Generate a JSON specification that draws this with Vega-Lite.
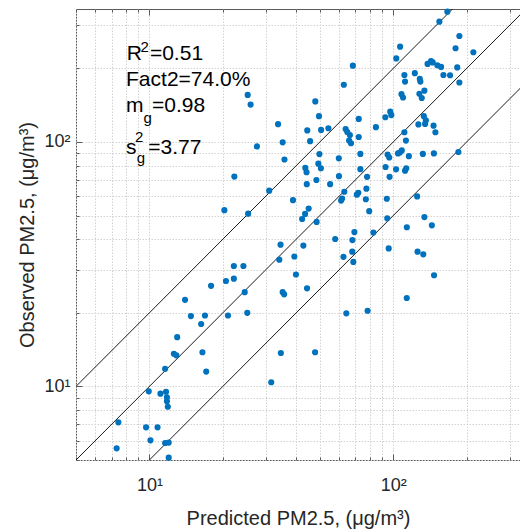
{
  "$schema": "https://vega.github.io/schema/vega-lite/v6.json",
  "width": 444,
  "height": 451,
  "autosize": {"type": "none"},
  "padding": {"left": 76, "top": 9, "right": 0, "bottom": 69},
  "background": "white",
  "config": {
    "view": {"stroke": "#5a5a5a", "strokeWidth": 1},
    "font": "Liberation Sans"
  },
  "datasets": {
    "pts": [
      {"predicted": 25.3, "observed": 155.8}, {"predicted": 26.0, "observed": 142.2}, {"predicted": 27.6, "observed": 95.9},
      {"predicted": 22.3, "observed": 72.2}, {"predicted": 20.3, "observed": 52.6}, {"predicted": 25.4, "observed": 50.9},
      {"predicted": 31.0, "observed": 63.2}, {"predicted": 33.7, "observed": 118.3}, {"predicted": 35.2, "observed": 99.7},
      {"predicted": 35.8, "observed": 84.8}, {"predicted": 38.8, "observed": 57.8}, {"predicted": 34.5, "observed": 38.0},
      {"predicted": 39.3, "observed": 34.0}, {"predicted": 34.1, "observed": 33.0}, {"predicted": 39.9, "observed": 28.7},
      {"predicted": 35.2, "observed": 24.3}, {"predicted": 35.7, "observed": 23.8}, {"predicted": 44.3, "observed": 25.2},
      {"predicted": 22.2, "observed": 31.1}, {"predicted": 24.3, "observed": 31.1}, {"predicted": 20.6, "observed": 27.0},
      {"predicted": 22.2, "observed": 27.6}, {"predicted": 17.9, "observed": 25.8}, {"predicted": 24.6, "observed": 24.3},
      {"predicted": 14.0, "observed": 22.6}, {"predicted": 14.8, "observed": 19.4}, {"predicted": 16.9, "observed": 19.5},
      {"predicted": 16.3, "observed": 18.0}, {"predicted": 21.0, "observed": 19.5}, {"predicted": 25.2, "observed": 20.0},
      {"predicted": 13.0, "observed": 15.9}, {"predicted": 16.5, "observed": 13.8}, {"predicted": 17.1, "observed": 11.5},
      {"predicted": 12.6, "observed": 13.6}, {"predicted": 12.9, "observed": 13.4}, {"predicted": 11.6, "observed": 11.8},
      {"predicted": 9.94, "observed": 9.55}, {"predicted": 11.1, "observed": 9.34}, {"predicted": 11.7, "observed": 9.51},
      {"predicted": 11.8, "observed": 9.03}, {"predicted": 11.8, "observed": 8.69}, {"predicted": 11.9, "observed": 8.26},
      {"predicted": 7.46, "observed": 7.13}, {"predicted": 9.69, "observed": 6.80}, {"predicted": 10.8, "observed": 6.80},
      {"predicted": 10.1, "observed": 6.02}, {"predicted": 11.6, "observed": 5.87}, {"predicted": 12.0, "observed": 5.89},
      {"predicted": 7.34, "observed": 5.58}, {"predicted": 12.0, "observed": 5.11}, {"predicted": 34.6, "observed": 13.7},
      {"predicted": 47.8, "observed": 13.8}, {"predicted": 31.6, "observed": 10.4}, {"predicted": 64.2, "observed": 19.9},
      {"predicted": 78.5, "observed": 20.4}, {"predicted": 113.6, "observed": 23.0}, {"predicted": 147.0, "observed": 28.5},
      {"predicted": 125.8, "observed": 35.6}, {"predicted": 132.8, "observed": 34.7}, {"predicted": 95.8, "observed": 36.7},
      {"predicted": 68.6, "observed": 32.3}, {"predicted": 62.5, "observed": 33.9}, {"predicted": 67.9, "observed": 35.6},
      {"predicted": 68.0, "observed": 39.7}, {"predicted": 69.3, "observed": 42.8}, {"predicted": 82.9, "observed": 42.6},
      {"predicted": 57.8, "observed": 40.1}, {"predicted": 42.8, "observed": 37.7}, {"predicted": 42.3, "observed": 48.4},
      {"predicted": 48.5, "observed": 47.1}, {"predicted": 43.5, "observed": 50.8}, {"predicted": 45.0, "observed": 53.4},
      {"predicted": 113.7, "observed": 44.8}, {"predicted": 144.0, "observed": 45.6}, {"predicted": 134.2, "observed": 49.3},
      {"predicted": 94.5, "observed": 48.7}, {"predicted": 79.7, "observed": 52.1}, {"predicted": 77.2, "observed": 58.3},
      {"predicted": 77.6, "observed": 64.4}, {"predicted": 70.9, "observed": 60.9}, {"predicted": 71.9, "observed": 62.0},
      {"predicted": 61.1, "observed": 57.6}, {"predicted": 61.7, "observed": 58.7}, {"predicted": 63.0, "observed": 62.6},
      {"predicted": 55.1, "observed": 67.2}, {"predicted": 44.2, "observed": 67.2}, {"predicted": 48.4, "observed": 69.9},
      {"predicted": 59.9, "observed": 72.5}, {"predicted": 78.1, "observed": 72.0}, {"predicted": 73.3, "observed": 77.4},
      {"predicted": 94.1, "observed": 58.6}, {"predicted": 125.3, "observed": 59.9}, {"predicted": 93.0, "observed": 79.0},
      {"predicted": 96.6, "observed": 72.0}, {"predicted": 102.7, "observed": 77.3}, {"predicted": 111.8, "observed": 76.3},
      {"predicted": 113.1, "observed": 78.1}, {"predicted": 94.8, "observed": 88.8}, {"predicted": 96.3, "observed": 86.4},
      {"predicted": 104.6, "observed": 89.8}, {"predicted": 108.4, "observed": 92.4}, {"predicted": 106.4, "observed": 90.6},
      {"predicted": 115.9, "observed": 87.5}, {"predicted": 132.3, "observed": 89.4}, {"predicted": 146.8, "observed": 89.8},
      {"predicted": 185.0, "observed": 91.0}, {"predicted": 111.1, "observed": 109.6}, {"predicted": 112.7, "observed": 101.3},
      {"predicted": 73.3, "observed": 89.4}, {"predicted": 59.8, "observed": 85.7}, {"predicted": 49.8, "observed": 89.2},
      {"predicted": 43.6, "observed": 78.3}, {"predicted": 44.1, "observed": 75.2}, {"predicted": 49.3, "observed": 81.5},
      {"predicted": 50.5, "observed": 78.1}, {"predicted": 45.6, "observed": 100.8}, {"predicted": 44.4, "observed": 111.5},
      {"predicted": 50.6, "observed": 112.0}, {"predicted": 54.2, "observed": 113.8}, {"predicted": 47.9, "observed": 146.5},
      {"predicted": 49.6, "observed": 127.5}, {"predicted": 63.8, "observed": 113.0}, {"predicted": 64.8, "observed": 109.9},
      {"predicted": 66.4, "observed": 106.8}, {"predicted": 65.9, "observed": 101.3}, {"predicted": 67.1, "observed": 98.8},
      {"predicted": 72.2, "observed": 104.8}, {"predicted": 84.9, "observed": 115.0}, {"predicted": 72.2, "observed": 124.3},
      {"predicted": 92.8, "observed": 126.2}, {"predicted": 97.2, "observed": 133.1}, {"predicted": 98.2, "observed": 128.8},
      {"predicted": 126.8, "observed": 118.0}, {"predicted": 135.1, "observed": 118.6}, {"predicted": 133.5, "observed": 127.5},
      {"predicted": 136.1, "observed": 122.5}, {"predicted": 146.3, "observed": 116.6}, {"predicted": 148.9, "observed": 109.6},
      {"predicted": 106.7, "observed": 245.5}, {"predicted": 102.9, "observed": 219.7}, {"predicted": 68.3, "observed": 205.3},
      {"predicted": 62.7, "observed": 171.5}, {"predicted": 138.3, "observed": 208.6}, {"predicted": 142.9, "observed": 214.2},
      {"predicted": 145.2, "observed": 211.6}, {"predicted": 151.7, "observed": 206.0}, {"predicted": 157.1, "observed": 202.8},
      {"predicted": 183.0, "observed": 201.8}, {"predicted": 160.6, "observed": 188.0}, {"predicted": 171.0, "observed": 187.5},
      {"predicted": 186.7, "observed": 175.2}, {"predicted": 111.1, "observed": 188.0}, {"predicted": 122.6, "observed": 191.2},
      {"predicted": 111.8, "observed": 176.6}, {"predicted": 128.5, "observed": 181.1}, {"predicted": 129.2, "observed": 176.6},
      {"predicted": 108.1, "observed": 156.9}, {"predicted": 109.7, "observed": 152.1}, {"predicted": 134.2, "observed": 162.2},
      {"predicted": 128.0, "observed": 157.5}, {"predicted": 130.9, "observed": 151.4}, {"predicted": 166.7, "observed": 341.4},
      {"predicted": 154.6, "observed": 310.7}, {"predicted": 186.7, "observed": 271.5}, {"predicted": 180.1, "observed": 241.8},
      {"predicted": 213.1, "observed": 232.9}
    ],
    "refs": [
      {"line": "1:1", "predicted": 1, "observed": 1},
      {"line": "1:1", "predicted": 1000, "observed": 1000},
      {"line": "2:1", "predicted": 1, "observed": 2},
      {"line": "2:1", "predicted": 1000, "observed": 2000},
      {"line": "1:2", "predicted": 1, "observed": 0.5},
      {"line": "1:2", "predicted": 1000, "observed": 500}
    ]
  },
  "resolve": {"axis": {"x": "independent", "y": "independent"}},
  "layer": [
    {
      "data": {"name": "refs"},
      "mark": {"type": "line", "color": "#1a1a1a", "strokeWidth": 1, "clip": true},
      "encoding": {
        "x": {"field": "predicted", "type": "quantitative",
              "scale": {"type": "log", "domain": [5, 331], "nice": false},
              "axis": {"orient": "top", "values": [5, 6, 7, 8, 9, 10, 20, 30, 40, 50, 60, 70, 80, 90, 100, 200, 300],
                       "labels": false, "grid": false, "domain": false, "title": null,
                       "tickColor": "#5a5a5a", "tickWidth": 1,
                       "tickSize": {"condition": {"test": "datum.value == 10 || datum.value == 100", "value": -6}, "value": -3}}},
        "y": {"field": "observed", "type": "quantitative",
              "scale": {"type": "log", "domain": [5, 350], "nice": false}, "axis": null},
        "detail": {"field": "line"}
      }
    },
    {
      "data": {"name": "pts"},
      "mark": {"type": "circle", "size": 38, "color": "#0072BD", "opacity": 1},
      "encoding": {
        "x": {"field": "predicted", "type": "quantitative",
              "scale": {"type": "log", "domain": [5, 331], "nice": false},
              "axis": {"orient": "bottom", "values": [5, 6, 7, 8, 9, 10, 20, 30, 40, 50, 60, 70, 80, 90, 100, 200, 300],
                       "labelExpr": "datum.value == 10 ? '10¹' : (datum.value == 100 ? '10²' : '')",
                       "labelFont": "Liberation Sans", "labelFontSize": 18, "labelColor": "#262626",
                       "labelPadding": 22.5, "labelAngle": 0, "labelFlush": false, "labelOverlap": false, "labelBaseline": "top",
                       "tickColor": "#5a5a5a", "tickWidth": 1,
                       "tickSize": {"condition": {"test": "datum.value == 10 || datum.value == 100", "value": -6}, "value": -3},
                       "domain": false, "grid": true, "gridColor": "#d2d2d2", "gridDash": [1.5, 1.5], "gridWidth": 1,
                       "title": "Predicted PM2.5, (μg/m³)", "titleFont": "Liberation Sans", "titleFontSize": 20,
                       "titleFontWeight": "normal", "titleColor": "#262626", "titlePadding": 11}},
        "y": {"field": "observed", "type": "quantitative",
              "scale": {"type": "log", "domain": [5, 350], "nice": false},
              "axis": {"orient": "left", "values": [5, 6, 7, 8, 9, 10, 20, 30, 40, 50, 60, 70, 80, 90, 100, 200, 300],
                       "labelExpr": "datum.value == 10 ? '10¹' : (datum.value == 100 ? '10²' : '')",
                       "labelFont": "Liberation Sans", "labelFontSize": 18, "labelColor": "#262626",
                       "labelPadding": 12, "labelOverlap": false, "labelFlush": false,
                       "tickColor": "#5a5a5a", "tickWidth": 1,
                       "tickSize": {"condition": {"test": "datum.value == 10 || datum.value == 100", "value": -6}, "value": -3},
                       "domain": false, "grid": true, "gridColor": "#d2d2d2", "gridDash": [1.5, 1.5], "gridWidth": 1,
                       "title": "Observed PM2.5, (μg/m³)", "titleFont": "Liberation Sans", "titleFontSize": 20,
                       "titleFontWeight": "normal", "titleColor": "#262626", "titlePadding": 6}}
      }
    },
    {
      "data": {"values": [{}]},
      "mark": {"type": "text", "text": "R", "font": "Liberation Sans", "fontSize": 21, "color": "#000000", "align": "left", "baseline": "alphabetic"},
      "encoding": {"x": {"datum": 8.07, "type": "quantitative", "axis": null}, "y": {"datum": 216.6, "type": "quantitative", "axis": null}}
    },
    {
      "data": {"values": [{}]},
      "mark": {"type": "text", "text": "2", "font": "Liberation Sans", "fontSize": 15, "color": "#000000", "align": "left", "baseline": "alphabetic"},
      "encoding": {"x": {"datum": 9.2, "type": "quantitative", "axis": null}, "y": {"datum": 234.2, "type": "quantitative", "axis": null}}
    },
    {
      "data": {"values": [{}]},
      "mark": {"type": "text", "text": "=0.51", "font": "Liberation Sans", "fontSize": 21, "color": "#000000", "align": "left", "baseline": "alphabetic"},
      "encoding": {"x": {"datum": 10.05, "type": "quantitative", "axis": null}, "y": {"datum": 216.6, "type": "quantitative", "axis": null}}
    },
    {
      "data": {"values": [{}]},
      "mark": {"type": "text", "text": "Fact2=74.0%", "font": "Liberation Sans", "fontSize": 21, "color": "#000000", "align": "left", "baseline": "alphabetic"},
      "encoding": {"x": {"datum": 8.02, "type": "quantitative", "axis": null}, "y": {"datum": 169.6, "type": "quantitative", "axis": null}}
    },
    {
      "data": {"values": [{}]},
      "mark": {"type": "text", "text": "m", "font": "Liberation Sans", "fontSize": 21, "color": "#000000", "align": "left", "baseline": "alphabetic"},
      "encoding": {"x": {"datum": 8.02, "type": "quantitative", "axis": null}, "y": {"datum": 132.7, "type": "quantitative", "axis": null}}
    },
    {
      "data": {"values": [{}]},
      "mark": {"type": "text", "text": "g", "font": "Liberation Sans", "fontSize": 15, "color": "#000000", "align": "left", "baseline": "alphabetic"},
      "encoding": {"x": {"datum": 9.46, "type": "quantitative", "axis": null}, "y": {"datum": 119.8, "type": "quantitative", "axis": null}}
    },
    {
      "data": {"values": [{}]},
      "mark": {"type": "text", "text": "=0.98", "font": "Liberation Sans", "fontSize": 21, "color": "#000000", "align": "left", "baseline": "alphabetic"},
      "encoding": {"x": {"datum": 10.25, "type": "quantitative", "axis": null}, "y": {"datum": 132.7, "type": "quantitative", "axis": null}}
    },
    {
      "data": {"values": [{}]},
      "mark": {"type": "text", "text": "s", "font": "Liberation Sans", "fontSize": 21, "color": "#000000", "align": "left", "baseline": "alphabetic"},
      "encoding": {"x": {"datum": 8.02, "type": "quantitative", "axis": null}, "y": {"datum": 89.3, "type": "quantitative", "axis": null}}
    },
    {
      "data": {"values": [{}]},
      "mark": {"type": "text", "text": "2", "font": "Liberation Sans", "fontSize": 15, "color": "#000000", "align": "left", "baseline": "alphabetic"},
      "encoding": {"x": {"datum": 8.73, "type": "quantitative", "axis": null}, "y": {"datum": 100.3, "type": "quantitative", "axis": null}}
    },
    {
      "data": {"values": [{}]},
      "mark": {"type": "text", "text": "g", "font": "Liberation Sans", "fontSize": 15, "color": "#000000", "align": "left", "baseline": "alphabetic"},
      "encoding": {"x": {"datum": 8.87, "type": "quantitative", "axis": null}, "y": {"datum": 82.2, "type": "quantitative", "axis": null}}
    },
    {
      "data": {"values": [{}]},
      "mark": {"type": "text", "text": "=3.77", "font": "Liberation Sans", "fontSize": 21, "color": "#000000", "align": "left", "baseline": "alphabetic"},
      "encoding": {"x": {"datum": 9.9, "type": "quantitative", "axis": null}, "y": {"datum": 89.3, "type": "quantitative", "axis": null}}
    }
  ]
}
